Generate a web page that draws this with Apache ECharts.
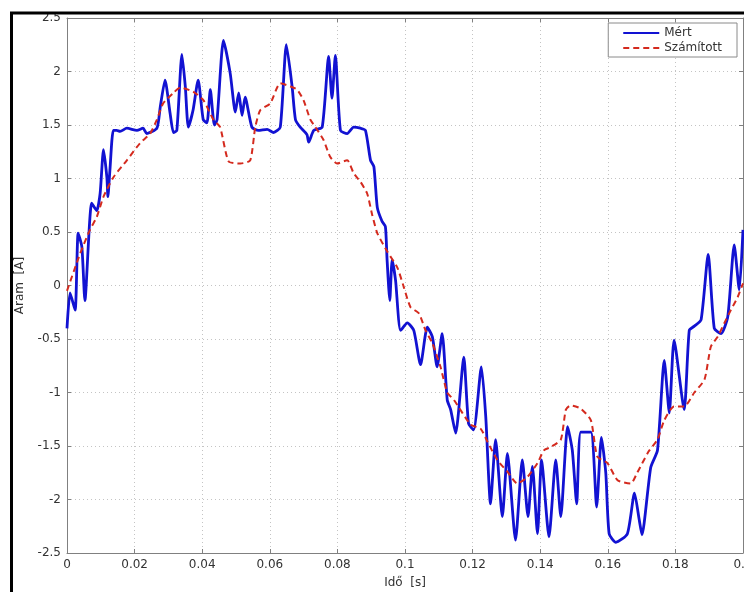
<!DOCTYPE html>
<html>
<head>
<meta charset="utf-8">
<script src="https://cdn.jsdelivr.net/npm/echarts@6/dist/echarts.min.js"></script>
<style>html,body{margin:0;padding:0;background:#fff;}#c{width:744px;height:592px;}</style>
</head>
<body>
<div id="c"></div>
<script>
// Mért (measured) series
var tMert = [0,0.0009,0.0024,0.0033,0.0044,0.0053,0.0073,0.0088,0.0098,0.0108,0.0118,0.0121,0.0127,0.0137,0.0147,0.0157,0.0177,0.0207,0.0225,0.0236,0.0266,0.0276,0.0290,0.0305,0.0315,0.0325,0.0340,0.0350,0.0359,0.0373,0.0388,0.0403,0.0414,0.0424,0.0436,0.0444,0.0463,0.0483,0.0498,0.0508,0.0518,0.0527,0.0547,0.0566,0.0592,0.0611,0.0631,0.0649,0.0666,0.0676,0.0690,0.0710,0.0715,0.0730,0.0755,0.0774,0.0784,0.0794,0.0809,0.0829,0.0848,0.0868,0.0883,0.0898,0.0908,0.0918,0.0932,0.0942,0.0947,0.0955,0.0962,0.0972,0.0987,0.1007,0.1026,0.1046,0.1066,0.1081,0.1095,0.1110,0.1125,0.1135,0.1150,0.1174,0.1188,0.1203,0.1226,0.1239,0.1253,0.1268,0.1288,0.1303,0.1327,0.1347,0.1364,0.1377,0.1392,0.1404,0.1426,0.1446,0.1461,0.1481,0.1495,0.1508,0.1520,0.1550,0.1567,0.1581,0.1594,0.1604,0.1624,0.1658,0.1679,0.1693,0.1701,0.1727,0.1747,0.1767,0.1782,0.1796,0.1826,0.1841,0.1856,0.1876,0.1897,0.1915,0.1935,0.1955,0.1974,0.1989,0.2000];
var vMert = [-0.40,-0.07,-0.23,0.49,0.36,-0.14,0.77,0.70,0.86,1.27,1.01,0.83,1.08,1.45,1.45,1.44,1.47,1.45,1.47,1.42,1.47,1.67,1.92,1.61,1.43,1.45,2.16,1.86,1.48,1.64,1.92,1.55,1.52,1.83,1.50,1.55,2.29,1.98,1.62,1.80,1.59,1.76,1.48,1.45,1.46,1.43,1.48,2.25,1.86,1.55,1.48,1.41,1.34,1.45,1.48,2.14,1.75,2.15,1.45,1.42,1.48,1.47,1.45,1.17,1.11,0.73,0.60,0.55,0.24,-0.14,0.24,0.05,-0.42,-0.35,-0.42,-0.74,-0.39,-0.48,-0.76,-0.45,-1.07,-1.16,-1.38,-0.67,-1.29,-1.35,-0.76,-1.23,-2.04,-1.44,-2.16,-1.57,-2.38,-1.63,-2.16,-1.69,-2.32,-1.63,-2.35,-1.63,-2.16,-1.32,-1.54,-2.04,-1.37,-1.37,-2.07,-1.42,-1.75,-2.32,-2.40,-2.32,-1.94,-2.19,-2.33,-1.70,-1.54,-0.70,-1.19,-0.51,-1.16,-0.42,-0.38,-0.32,0.29,-0.40,-0.45,-0.29,0.38,-0.04,0.52];
// Számított (calculated) series
var tSzam = [0,0.0039,0.0068,0.0088,0.0108,0.0137,0.0177,0.0216,0.0246,0.0266,0.0284,0.0315,0.0335,0.0374,0.0404,0.0433,0.0453,0.0478,0.0513,0.0542,0.0557,0.0572,0.0601,0.0631,0.0661,0.0681,0.0700,0.0720,0.0735,0.0759,0.0779,0.0799,0.0829,0.0848,0.0868,0.0888,0.0903,0.0918,0.0947,0.0977,0.0996,0.1016,0.1041,0.1061,0.1081,0.1105,0.1125,0.1145,0.1194,0.1224,0.1244,0.1273,0.1303,0.1332,0.1362,0.1392,0.1411,0.1431,0.1461,0.1476,0.1490,0.1520,0.1550,0.1569,0.1599,0.1629,0.1668,0.1687,0.1721,0.1747,0.1767,0.1796,0.1826,0.1856,0.1886,0.1905,0.1925,0.1945,0.1964,0.1984,0.2000];
var vSzam = [-0.05,0.30,0.52,0.64,0.83,1.01,1.17,1.33,1.42,1.55,1.70,1.80,1.85,1.81,1.73,1.55,1.48,1.16,1.14,1.17,1.48,1.64,1.70,1.89,1.86,1.83,1.73,1.55,1.48,1.36,1.20,1.14,1.17,1.05,0.97,0.86,0.66,0.49,0.32,0.17,-0.01,-0.20,-0.26,-0.42,-0.54,-0.76,-1.00,-1.07,-1.30,-1.34,-1.46,-1.63,-1.74,-1.85,-1.79,-1.66,-1.54,-1.51,-1.44,-1.16,-1.12,-1.15,-1.26,-1.60,-1.66,-1.82,-1.85,-1.75,-1.55,-1.44,-1.26,-1.13,-1.13,-1.00,-0.88,-0.57,-0.48,-0.35,-0.23,-0.11,0.02];
var seriesNames = ['Mért', 'Számított'];
var xName = 'Idő  [s]';
var yName = 'Áram  [A]';

function pairs(t, v) { return t.map(function (x, i) { return [x, v[i]]; }); }

var font = '"DejaVu Sans", "Liberation Sans", sans-serif';
var gridLine = { show: true, lineStyle: { color: '#c4c4c4', type: [1, 3], width: 1 } };
var axisLine = { show: true, onZero: false, lineStyle: { color: '#808080', width: 1 } };
var tick = { show: true, inside: true, length: 4, lineStyle: { color: '#808080' } };

var chart = echarts.init(document.getElementById('c'), null, { renderer: 'canvas' });
chart.setOption({
  animation: false,
  backgroundColor: '#fff',
  grid: { left: 67, top: 18, right: 1, bottom: 39, containLabel: false, outerBoundsMode: 'none', show: false },
  legend: {
    data: seriesNames,
    orient: 'vertical',
    right: 7, top: 23,
    itemWidth: 36, itemHeight: 10, itemGap: 3,
    padding: [4, 15, 3, 14],
    backgroundColor: '#fff', borderColor: '#8a8a8a', borderWidth: 1,
    itemStyle: { opacity: 0 },
    textStyle: { fontFamily: font, fontSize: 12, color: '#333' }
  },
  xAxis: [{
    type: 'value', min: 0, max: 0.2, interval: 0.02, position: 'bottom',
    name: xName, nameLocation: 'middle', nameGap: 24,
    nameTextStyle: { fontFamily: font, fontSize: 12, color: '#333' },
    axisLine: axisLine, axisTick: tick, splitLine: gridLine,
    axisLabel: { margin: 6, fontFamily: font, fontSize: 12, color: '#333', showMaxLabel: true, showMinLabel: true }
  }, {
    type: 'value', min: 0, max: 0.2, interval: 0.02, position: 'top',
    axisLine: axisLine, axisTick: tick, splitLine: { show: false }, axisLabel: { show: false }
  }],
  yAxis: [{
    type: 'value', min: -2.5, max: 2.5, interval: 0.5, position: 'left',
    name: yName, nameLocation: 'middle', nameGap: 41, nameRotate: 90,
    nameTextStyle: { fontFamily: font, fontSize: 12, color: '#333' },
    axisLine: axisLine, axisTick: tick, splitLine: gridLine,
    axisLabel: { margin: 6, fontFamily: font, fontSize: 12, color: '#333' }
  }, {
    type: 'value', min: -2.5, max: 2.5, interval: 0.5, position: 'right',
    axisLine: axisLine, axisTick: tick, splitLine: { show: false }, axisLabel: { show: false }
  }],
  series: [{
    name: seriesNames[0], type: 'line', data: pairs(tMert, vMert),
    symbol: 'none', smooth: 0.2, z: 3,
    lineStyle: { color: '#1212d2', width: 2.8 }, itemStyle: { color: '#1212d2' }
  }, {
    name: seriesNames[1], type: 'line', data: pairs(tSzam, vSzam),
    symbol: 'none', smooth: 0.2, z: 4,
    lineStyle: { color: '#d42a1e', width: 2, type: [6, 4] }, itemStyle: { color: '#d42a1e' }
  }],
  graphic: [{
    type: 'rect', z: 100, silent: true,
    shape: { x: 11.5, y: 13, width: 900, height: 900 },
    style: { fill: 'none', stroke: '#000', lineWidth: 3 }
  }]
});
</script>
</body>
</html>
